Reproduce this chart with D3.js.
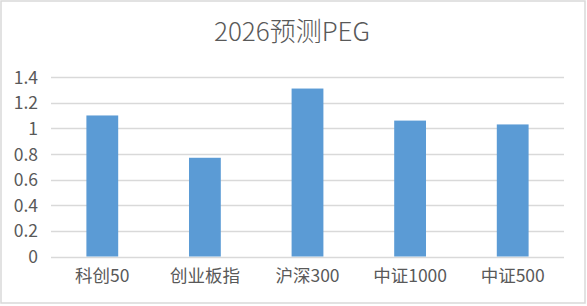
<!DOCTYPE html>
<html><head><meta charset="utf-8">
<script src="https://cdn.jsdelivr.net/npm/d3@7"></script>
<style>html,body{margin:0;padding:0;background:#fff;}svg{display:block;}</style>
</head><body>
<svg id="chart" width="587" height="306"></svg>
<script>
const title = "2026预测PEG";
const categories = ["科创50", "创业板指", "沪深300", "中证1000", "中证500"];
const values = [1.10, 0.77, 1.31, 1.06, 1.03];
const yTicks = [0, 0.2, 0.4, 0.6, 0.8, 1, 1.2, 1.4];

const W = 587, H = 306;
const m = {left: 51, right: 23, top: 77, bottom: 49.5};
const svg = d3.select("#chart");
const font = "'Noto Sans CJK SC', 'Noto Sans', sans-serif";
const textColor = "#595959";

svg.append("rect").attr("x", 1).attr("y", 1).attr("width", W - 3).attr("height", H - 4)
  .attr("fill", "#fff").attr("stroke", "#D9D9D9").attr("stroke-width", 1.5);

const x = d3.scaleBand().domain(categories).range([m.left, W - m.right]).paddingInner(0.69).paddingOuter(0.345);
const y = d3.scaleLinear().domain([0, 1.4]).range([H - m.bottom, m.top]);

// gridlines
svg.append("g").selectAll("line").data(yTicks).join("line")
  .attr("x1", m.left).attr("x2", W - m.right)
  .attr("y1", d => Math.round(y(d)) + 0.5).attr("y2", d => Math.round(y(d)) + 0.5)
  .attr("stroke", "#D9D9D9").attr("stroke-width", 1.3);

// bars
svg.append("g").selectAll("rect").data(values).join("rect")
  .attr("x", (d, i) => x(categories[i]))
  .attr("width", x.bandwidth())
  .attr("y", d => y(d))
  .attr("height", d => y(0) - y(d))
  .attr("fill", "#5B9BD5");

// y axis labels
const yAxis = d3.axisLeft(y).tickValues(yTicks).tickSize(0).tickPadding(0).tickFormat(d3.format("~g"));
const gy = svg.append("g").attr("transform", `translate(38,0)`).call(yAxis);
gy.select(".domain").remove();
gy.selectAll("text").attr("font-family", font).attr("font-size", 17.5).attr("fill", textColor).attr("dy", "0.35em");

// x axis labels
const xAxis = d3.axisBottom(x).tickSize(0).tickPadding(0);
const gx = svg.append("g").attr("transform", `translate(0,${y(0) + 13})`).call(xAxis);
gx.select(".domain").remove();
gx.selectAll("text").attr("font-family", font).attr("font-size", 17.5).attr("fill", textColor).attr("dy", "0.71em");

// title
svg.append("text").attr("x", 292).attr("y", 41).attr("text-anchor", "middle")
  .attr("font-family", font).attr("font-size", 26).attr("font-weight", 300).attr("fill", textColor).text(title);
</script>
</body></html>
